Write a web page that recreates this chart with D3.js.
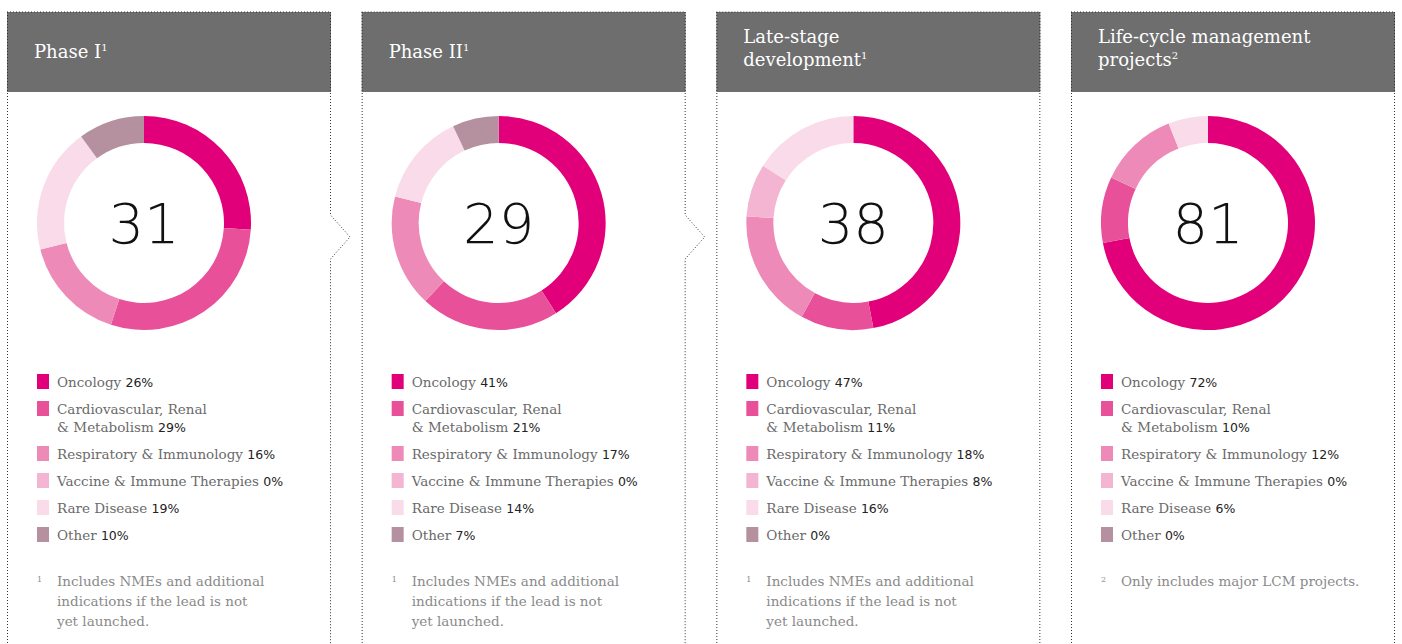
<!DOCTYPE html>
<html><head><meta charset="utf-8">
<script src="https://cdn.jsdelivr.net/npm/d3@7"></script>
<style>body{margin:0;background:#fff}</style>
</head><body>
<svg id="c" width="1402" height="644"></svg>
<script>
const categories = ["Oncology", "Cardiovascular, Renal|& Metabolism", "Respiratory & Immunology", "Vaccine & Immune Therapies", "Rare Disease", "Other"];
const colors = ["#e2007a", "#e8519a", "#ee8ab8", "#f4b5d3", "#f9dbe9", "#b5909f"];
const titles = [["Phase I", "1"], ["Phase II", "1"], ["Late-stage", "development", "1"], ["Life-cycle management", "projects", "2"]];
const totals = [31, 29, 38, 81];
const shares = [
  [26, 29, 16, 0, 19, 10],
  [41, 21, 17, 0, 14, 7],
  [47, 11, 18, 8, 16, 0],
  [72, 10, 12, 0, 6, 0]
];
const footnotes = [
  ["1", "Includes NMEs and additional", "indications if the lead is not", "yet launched."],
  ["1", "Includes NMEs and additional", "indications if the lead is not", "yet launched."],
  ["1", "Includes NMEs and additional", "indications if the lead is not", "yet launched."],
  ["2", "Only includes major LCM projects."]
];

const svg = d3.select("#c");
const px = d3.scalePoint().domain(d3.range(4)).range([7, 1071]);
const W = 324, topY = 12, hh = 80;
const serif = "'DejaVu Serif', serif";
const pie = d3.pie().sort(null).value(d => d);
const arc = d3.arc().innerRadius(80).outerRadius(107);

titles.forEach((t, i) => {
  const g = svg.append("g").attr("transform", `translate(${px(i)},0)`);
  g.append("rect").attr("x", 0).attr("y", topY).attr("width", W).attr("height", hh).attr("fill", "#6e6e6e");
  g.append("line").attr("x1", 0).attr("x2", W).attr("y1", topY).attr("y2", topY).attr("stroke", "#333").attr("stroke-dasharray", "1,2");
  g.append("line").attr("x1", 0.5).attr("x2", 0.5).attr("y1", topY).attr("y2", 644).attr("stroke", "#333").attr("stroke-dasharray", "1,2");
  const path = i < 2
    ? `M${W - 0.5},${topY}V215L${W + 19},237L${W - 0.5},259V644`
    : `M${W - 0.5},${topY}V644`;
  g.append("path").attr("d", path).attr("fill", "none").attr("stroke", "#333").attr("stroke-dasharray", "1,2");

  const lines = t.slice(0, -1);
  const tt = g.append("text").attr("font-family", serif).attr("font-size", 18).attr("fill", "#fff");
  const y0 = lines.length === 1 ? 58 : 43;
  lines.forEach((l, j) => {
    tt.append("tspan").attr("x", 27).attr("y", y0 + j * 23).text(l);
    if (j === lines.length - 1) tt.append("tspan").attr("dy", -7).attr("font-size", 10).text(t[t.length - 1]);
  });

  const d = g.append("g").attr("transform", "translate(137,223)");
  d.selectAll("path").data(pie(shares[i])).join("path")
    .attr("d", arc).attr("fill", (_, k) => colors[k]);
  d.append("text").attr("text-anchor", "middle").attr("dy", "0.35em")
    .attr("font-family", "'DejaVu Sans', sans-serif").attr("font-size", 56).attr("font-weight", 300)
    .attr("fill", "#111").text(totals[i]);

  let y = 382;
  categories.forEach((c, k) => {
    const parts = c.split("|");
    g.append("rect").attr("x", 30).attr("y", y - 8).attr("width", 12).attr("height", 15).attr("fill", colors[k]);
    const tx = g.append("text").attr("font-family", serif).attr("font-size", 13.5).attr("fill", "#6a6a6a");
    parts.forEach((pt, j) => {
      tx.append("tspan").attr("x", 50).attr("y", y + 5 + j * 18).text(pt + (j === parts.length - 1 ? " " : ""));
    });
    tx.append("tspan").attr("font-family", "'DejaVu Sans', sans-serif").attr("font-size", 12.5).attr("fill", "#222").text(shares[i][k] + "%");
    y += 27 + (parts.length - 1) * 18;
  });

  const f = footnotes[i];
  g.append("text").attr("x", 30).attr("y", 582).attr("font-family", serif).attr("font-size", 8).attr("fill", "#888").text(f[0]);
  f.slice(1).forEach((l, j) => {
    g.append("text").attr("x", 50).attr("y", 586 + j * 20).attr("font-family", serif)
      .attr("font-size", 13.5).attr("fill", "#8a8a8a").text(l);
  });
});
</script>
</body></html>
